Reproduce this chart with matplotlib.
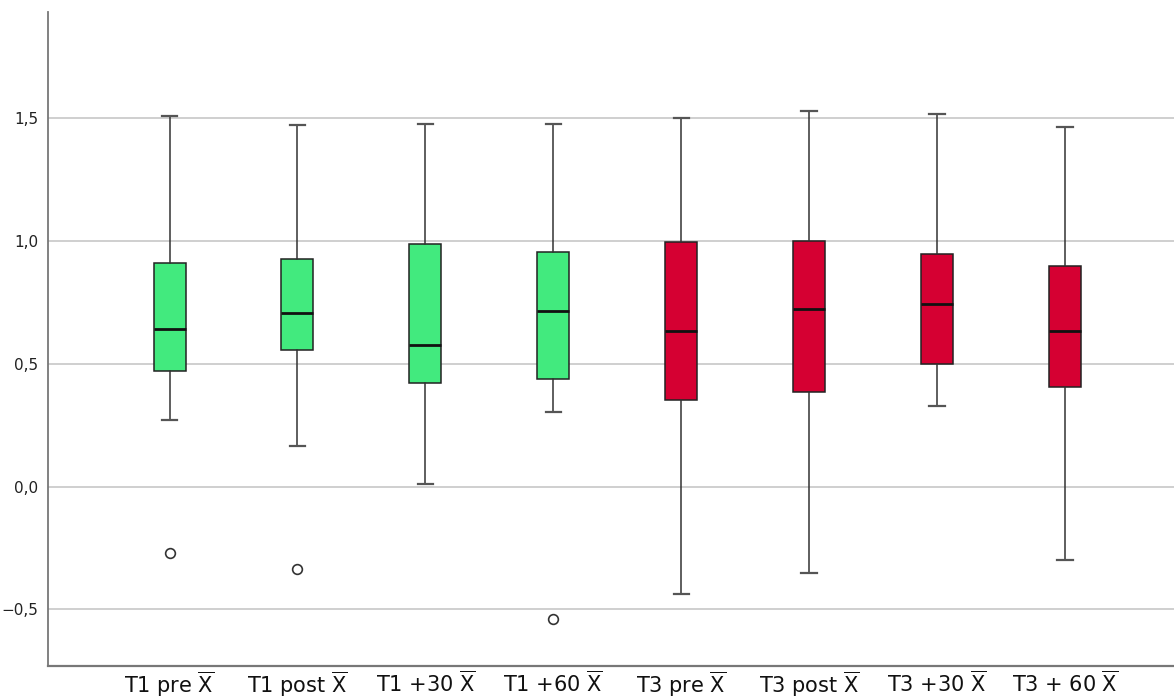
import matplotlib
matplotlib.use("Agg")
import matplotlib.pyplot as plt

plt.rcParams["mathtext.fontset"] = "dejavusans"

# Kennwerte je Messzeitpunkt (aus SPSS Boxplot)
xbar = r"$\overline{\mathrm{X}}$"
labels = ["T1 pre " + xbar, "T1 post " + xbar, "T1 +30 " + xbar, "T1 +60 " + xbar,
          "T3 pre " + xbar, "T3 post " + xbar, "T3 +30 " + xbar, "T3 + 60 " + xbar]
whislo = [0.270, 0.163, 0.009, 0.304, -0.439, -0.353, 0.327, -0.297]
q1 = [0.468, 0.555, 0.420, 0.439, 0.351, 0.386, 0.499, 0.405]
med = [0.642, 0.705, 0.575, 0.714, 0.632, 0.724, 0.741, 0.631]
q3 = [0.908, 0.924, 0.985, 0.954, 0.994, 0.997, 0.944, 0.897]
whishi = [1.508, 1.472, 1.476, 1.476, 1.497, 1.527, 1.515, 1.464]
fliers = [[-0.269], [-0.334], [], [-0.538], [], [], [], []]
groups = ["T1", "T1", "T1", "T1", "T3", "T3", "T3", "T3"]
group_colors = {"T1": "#42EA7E", "T3": "#D50032"}

yticks = [-0.5, 0.0, 0.5, 1.0, 1.5]


def main():
    stats = []
    for i in range(len(labels)):
        stats.append(dict(label=labels[i], whislo=whislo[i], q1=q1[i], med=med[i],
                          q3=q3[i], whishi=whishi[i], fliers=fliers[i]))

    fig = plt.figure(figsize=(11.74, 6.99), dpi=100)
    ax = fig.add_axes([48 / 1174, 1 - 666 / 699, 1 - 48 / 1174, (666 - 12) / 699])

    # Gitterlinien hinter die Boxen
    for y in yticks:
        ax.axhline(y, color="#cccccc", lw=1.3, zorder=0)

    bp = ax.bxp(stats, positions=range(1, len(labels) + 1), widths=0.25,
                patch_artist=True, showfliers=True,
                boxprops=dict(edgecolor="#222222", linewidth=1.1),
                medianprops=dict(color="#111111", linewidth=2.0),
                whiskerprops=dict(color="#333333", linewidth=1.1),
                capprops=dict(color="#555555", linewidth=1.6),
                flierprops=dict(marker="o", markersize=7, markerfacecolor="white",
                                markeredgecolor="#333333", markeredgewidth=1.2))
    for patch, g in zip(bp["boxes"], groups):
        patch.set_facecolor(group_colors[g])
    # Querstriche an den Whiskern etwas schmaler
    for cap in bp["caps"]:
        x0, x1 = cap.get_xdata()
        c = (x0 + x1) / 2
        cap.set_xdata([c - 0.06, c + 0.06])

    ax.set_xlim(0.05, 8.852)
    ax.set_ylim(-0.730, 1.930)
    ax.set_yticks(yticks)
    ax.set_yticklabels([("%.1f" % v).replace(".", ",").replace("-", "\u2212") for v in yticks],
                       fontsize=11, color="#222222")
    ax.tick_params(axis="y", length=0, pad=7)
    ax.tick_params(axis="x", length=0, pad=3, labelsize=15)
    for t in ax.get_xticklabels():
        t.set_color("#111111")

    for side in ["top", "right"]:
        ax.spines[side].set_visible(False)
    ax.spines["left"].set_color("#777777")
    ax.spines["left"].set_linewidth(1.3)
    ax.spines["bottom"].set_color("#777777")
    ax.spines["bottom"].set_linewidth(1.6)

    fig.savefig("out.png", dpi=100)


if __name__ == "__main__":
    main()
